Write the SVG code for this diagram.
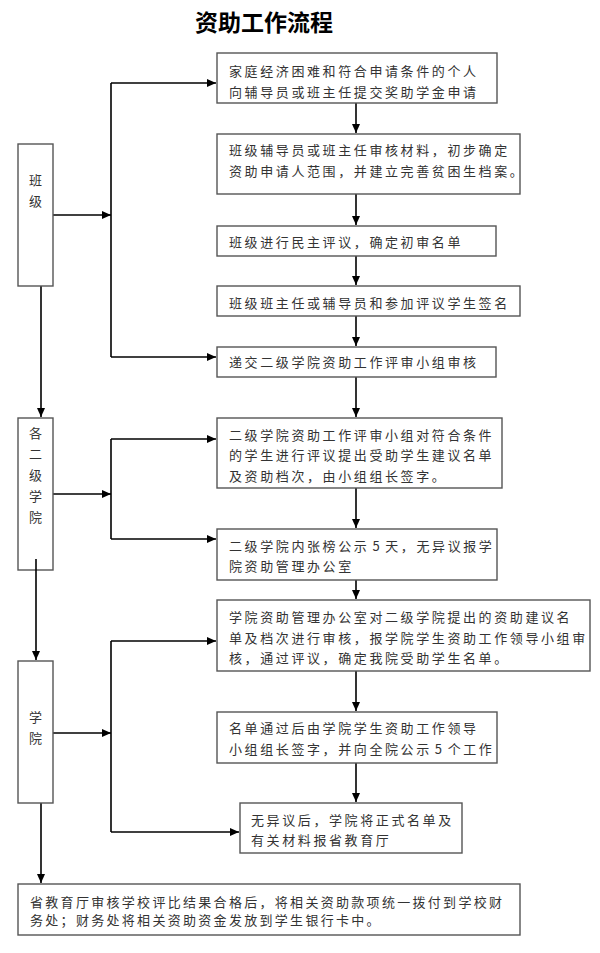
<svg xmlns="http://www.w3.org/2000/svg" width="600" height="953" viewBox="0 0 600 953">
<defs>
<style>
.box{fill:#fff;stroke:#555;stroke-width:1.4}
.t{font-family:"Noto Sans CJK SC","Liberation Sans",sans-serif;font-size:13px;letter-spacing:2.6px;fill:#333}
.tb{font-family:"Noto Sans CJK SC","Liberation Sans",sans-serif;font-size:13px;letter-spacing:2.3px;fill:#333}
.lt{font-family:"Noto Sans CJK SC","Liberation Sans",sans-serif;font-size:13px;fill:#333;text-anchor:middle}
.title{font-family:"Noto Sans CJK SC","Liberation Sans",sans-serif;font-size:23px;font-weight:bold;fill:#000;text-anchor:middle}
.c{fill:none;stroke:#000;stroke-width:1.6}
</style>
<marker id="ah" markerUnits="userSpaceOnUse" markerWidth="9" markerHeight="8" refX="9" refY="4" orient="auto">
<path d="M0,0 L9,4 L0,8 z" fill="#000"/>
</marker>
</defs>
<rect width="600" height="953" fill="#fff"/>
<text class="title" x="264" y="31">资助工作流程</text>

<g id="connectors">
<path class="c" d="M356,103 V133" marker-end="url(#ah)"/>
<path class="c" d="M356,194 V225" marker-end="url(#ah)"/>
<path class="c" d="M356,256 V285" marker-end="url(#ah)"/>
<path class="c" d="M356,316 V346" marker-end="url(#ah)"/>
<path class="c" d="M356,377 V417" marker-end="url(#ah)"/>
<path class="c" d="M356,488 V528" marker-end="url(#ah)"/>
<path class="c" d="M356,580 V599" marker-end="url(#ah)"/>
<path class="c" d="M356,671 V711" marker-end="url(#ah)"/>
<path class="c" d="M356,763 V802" marker-end="url(#ah)"/>
<path class="c" d="M111,83 V357"/>
<path class="c" d="M111,83 H216" marker-end="url(#ah)"/>
<path class="c" d="M111,357 H216" marker-end="url(#ah)"/>
<path class="c" d="M53,215 H111" marker-end="url(#ah)"/>
<path class="c" d="M111,439 V539"/>
<path class="c" d="M111,439 H216" marker-end="url(#ah)"/>
<path class="c" d="M111,539 H216" marker-end="url(#ah)"/>
<path class="c" d="M53,494 H111" marker-end="url(#ah)"/>
<path class="c" d="M111,641 V832"/>
<path class="c" d="M111,641 H216" marker-end="url(#ah)"/>
<path class="c" d="M111,832 H239" marker-end="url(#ah)"/>
<path class="c" d="M53,733 H111" marker-end="url(#ah)"/>
<path class="c" d="M41,286 V417" marker-end="url(#ah)"/>
<path class="c" d="M41,803 V883" marker-end="url(#ah)"/>
</g>

<g id="n-banji">
<rect class="box" x="18" y="144" width="35" height="142"/>
<text class="lt" x="35.5" y="184.5">班</text>
<text class="lt" x="35.5" y="205.5">级</text>
</g>
<g id="n-erji">
<rect class="box" x="18" y="418" width="35" height="152"/>
<text class="lt" x="35.5" y="437.5">各</text>
<text class="lt" x="35.5" y="458.5">二</text>
<text class="lt" x="35.5" y="479.5">级</text>
<text class="lt" x="35.5" y="500.5">学</text>
<text class="lt" x="35.5" y="521.5">院</text>
</g>
<g id="n-xueyuan">
<rect class="box" x="18" y="661" width="35" height="142"/>
<text class="lt" x="35.5" y="721.5">学</text>
<text class="lt" x="35.5" y="742.5">院</text>
</g>
<g id="connector-erji-xueyuan">
<path class="c" d="M36,559 V660" marker-end="url(#ah)"/>
</g>

<g id="n1">
<rect class="box" x="217" y="53" width="280" height="50"/>
<text class="t" x="229" y="75.5">家庭经济困难和符合申请条件的个人</text>
<text class="t" x="229" y="96.5">向辅导员或班主任提交奖助学金申请</text>
</g>
<g id="n2">
<rect class="box" x="217" y="134" width="303" height="60"/>
<text class="t" x="229" y="155">班级辅导员或班主任审核材料，初步确定</text>
<text class="t" x="229" y="175.5">资助申请人范围，并建立完善贫困生档案。</text>
</g>
<g id="n3">
<rect class="box" x="217" y="226" width="279" height="30"/>
<text class="t" x="229" y="246.5">班级进行民主评议，确定初审名单</text>
</g>
<g id="n4">
<rect class="box" x="217" y="286" width="303" height="30"/>
<text class="t" x="229" y="307.5">班级班主任或辅导员和参加评议学生签名</text>
</g>
<g id="n5">
<rect class="box" x="217" y="347" width="279" height="30"/>
<text class="t" x="229" y="366.5">递交二级学院资助工作评审小组审核</text>
</g>
<g id="n6">
<rect class="box" x="217" y="418" width="285" height="70"/>
<text class="t" x="229" y="439.5">二级学院资助工作评审小组对符合条件</text>
<text class="t" x="229" y="460">的学生进行评议提出受助学生建议名单</text>
<text class="t" x="229" y="480.5">及资助档次，由小组组长签字。</text>
</g>
<g id="n7">
<rect class="box" x="217" y="529" width="280" height="51"/>
<text class="t" x="229" y="550.5">二级学院内张榜公示<tspan dx="3">5</tspan><tspan dx="3">天，无异议报学</tspan></text>
<text class="t" x="229" y="570.5">院资助管理办公室</text>
</g>
<g id="n8">
<rect class="box" x="217" y="600" width="373" height="71"/>
<text class="t" x="229" y="621.5">学院资助管理办公室对二级学院提出的资助建议名</text>
<text class="t" x="229" y="642.5">单及档次进行审核，报学院学生资助工作领导小组审</text>
<text class="t" x="229" y="662.5">核，通过评议，确定我院受助学生名单。</text>
</g>
<g id="n9">
<rect class="box" x="217" y="712" width="280" height="51"/>
<text class="t" x="229" y="732.5">名单通过后由学院学生资助工作领导</text>
<text class="t" x="229" y="753.5">小组组长签字，并向全院公示<tspan dx="3">5</tspan><tspan dx="3">个工作</tspan></text>
</g>
<g id="n10">
<rect class="box" x="240" y="803" width="222" height="50"/>
<text class="t" x="251" y="824.5">无异议后，学院将正式名单及</text>
<text class="t" x="251" y="844.5">有关材料报省教育厅</text>
</g>
<g id="n11">
<rect class="box" x="18" y="884" width="502" height="51"/>
<text class="tb" x="30" y="906.5">省教育厅审核学校评比结果合格后，将相关资助款项统一拨付到学校财</text>
<text class="tb" x="30" y="924.5">务处；财务处将相关资助资金发放到学生银行卡中。</text>
</g>
</svg>
